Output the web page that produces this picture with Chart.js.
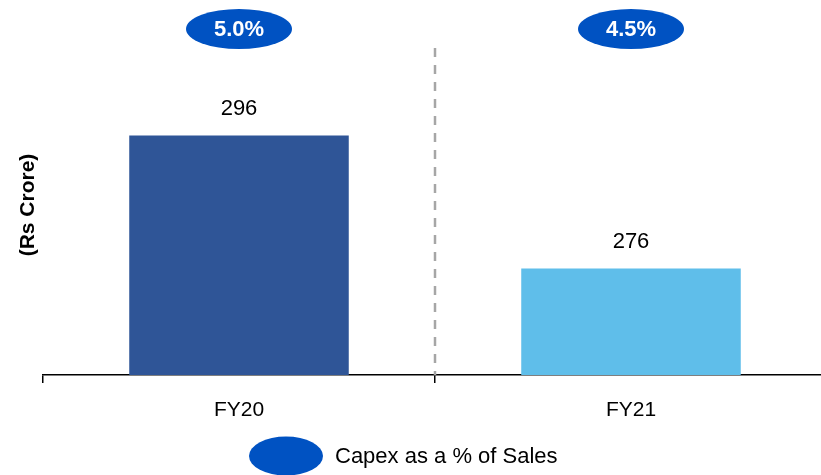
<!DOCTYPE html>
<html>
<head>
<meta charset="utf-8">
<script src="https://cdn.jsdelivr.net/npm/chart.js@4/dist/chart.umd.min.js"></script>
<style>
  html, body { margin: 0; padding: 0; background: #fff; overflow: hidden; }
  /* slightly wider than the window so the right-hand tick falls just off the edge */
  #wrap { width: 827px; height: 475px; }
</style>
</head>
<body>
<div id="wrap"><canvas id="capex"></canvas></div>
<script>
const years = ['FY20', 'FY21'];
const capex = [296, 276];
const capexPctSales = ['5.0%', '4.5%'];
const legendText = 'Capex as a % of Sales';
const barColors = ['#2F5597', '#5FBEEA'];
const ovalColor = '#0052C2';
const fontFamily = '"Liberation Sans", Arial, sans-serif';

const extras = {
  id: 'extras',
  afterDatasetsDraw(chart) {
    const ctx = chart.ctx;
    const xs = chart.scales.x;
    const area = chart.chartArea;
    const bars = chart.getDatasetMeta(0).data;

    // dashed divider between the two years
    const midX = (xs.getPixelForValue(0) + xs.getPixelForValue(1)) / 2;
    ctx.save();
    ctx.strokeStyle = '#A6A6A6';
    ctx.lineWidth = 2.5;
    ctx.setLineDash([9, 8]);
    ctx.beginPath();
    ctx.moveTo(midX, 48);
    ctx.lineTo(midX, area.bottom);
    ctx.stroke();
    ctx.restore();

    // value labels above bars
    ctx.save();
    ctx.fillStyle = '#000';
    ctx.font = '22px ' + fontFamily;
    ctx.textAlign = 'center';
    ctx.textBaseline = 'middle';
    bars.forEach((bar, i) => {
      ctx.fillText(capex[i], bar.x, bar.y - 27);
    });
    ctx.restore();

    // capex as % of sales ovals
    ctx.save();
    bars.forEach((bar, i) => {
      ctx.fillStyle = ovalColor;
      ctx.beginPath();
      ctx.ellipse(bar.x, 29, 53, 20, 0, 0, Math.PI * 2);
      ctx.fill();
      ctx.fillStyle = '#fff';
      ctx.font = 'bold 22px ' + fontFamily;
      ctx.textAlign = 'center';
      ctx.textBaseline = 'middle';
      ctx.fillText(capexPctSales[i], bar.x, 30);
    });
    ctx.restore();

    // legend: oval key + label
    ctx.save();
    ctx.fillStyle = ovalColor;
    ctx.beginPath();
    ctx.ellipse(286, 456, 37, 19.5, 0, 0, Math.PI * 2);
    ctx.fill();
    ctx.fillStyle = '#000';
    ctx.font = '22px ' + fontFamily;
    ctx.textAlign = 'left';
    ctx.textBaseline = 'middle';
    ctx.fillText(legendText, 335, 457);
    ctx.restore();

    // y axis title
    ctx.save();
    ctx.translate(28, 205);
    ctx.rotate(-Math.PI / 2);
    ctx.fillStyle = '#000';
    ctx.font = 'bold 21px ' + fontFamily;
    ctx.textAlign = 'center';
    ctx.textBaseline = 'middle';
    ctx.fillText('(Rs Crore)', 0, 0);
    ctx.restore();
  }
};

new Chart(document.getElementById('capex'), {
  type: 'bar',
  data: {
    labels: years,
    datasets: [{
      label: 'Capex',
      data: capex,
      backgroundColor: barColors,
      categoryPercentage: 1,
      barPercentage: 0.56,
    }],
  },
  options: {
    responsive: true,
    maintainAspectRatio: false,
    animation: false,
    layout: { padding: { left: 0, top: 109, right: 0, bottom: 50 } },
    scales: {
      x: {
        grid: {
          offset: true,
          drawOnChartArea: false,
          drawTicks: true,
          tickLength: 8,
          color: '#000',
          lineWidth: 1.5,
        },
        border: { color: '#000', width: 1.5 },
        ticks: { color: '#000', padding: 15, font: { size: 21, family: fontFamily } },
        afterFit(scale) { scale.height = 50; },
      },
      y: {
        min: 260,
        max: 300,
        ticks: { display: false },
        grid: { display: false },
        border: { display: false },
        // blank strip on the left for the rotated title
        afterFit(scale) { scale.width = 43; },
      },
    },
    plugins: {
      tooltip: { enabled: false },
      legend: { display: false },
    },
  },
  plugins: [extras],
});
</script>
</body>
</html>
